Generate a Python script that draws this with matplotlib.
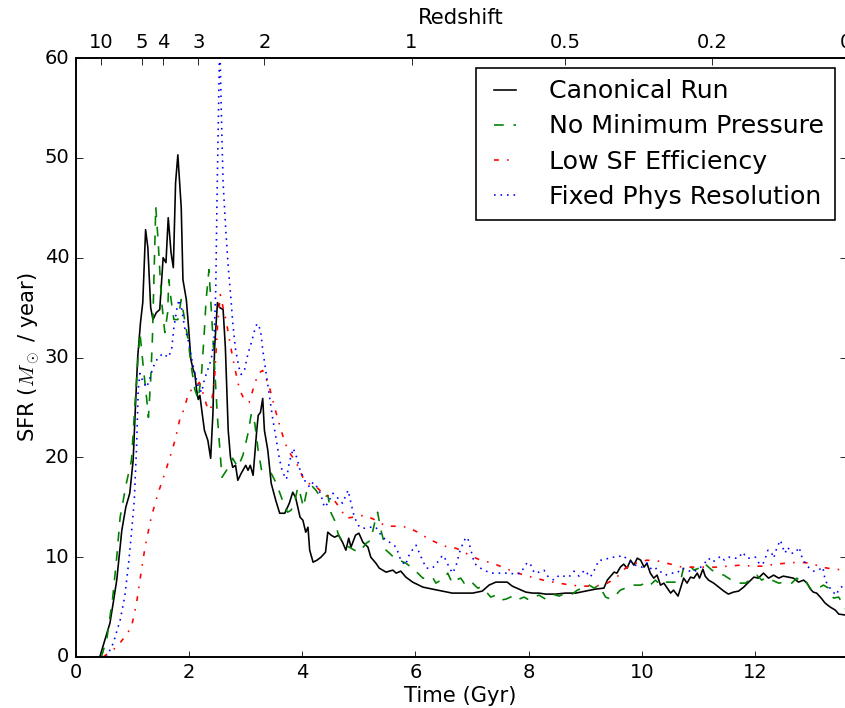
import matplotlib
matplotlib.use("Agg")
import matplotlib.pyplot as plt

plt.style.use("classic")

# --- data (time in Gyr, SFR in Msun/yr) ---
canon_t = [0.42, 0.50, 0.60, 0.66, 0.72, 0.81, 0.88, 0.95, 1.01, 1.05, 1.09, 1.14, 1.18, 1.23, 1.27,
           1.32, 1.36, 1.42, 1.48, 1.54, 1.59, 1.63, 1.68, 1.72, 1.76, 1.80, 1.86, 1.89, 1.95, 1.99,
           2.03, 2.07, 2.10, 2.13, 2.16, 2.19, 2.23, 2.27, 2.33, 2.38, 2.42, 2.45, 2.50, 2.54, 2.60,
           2.64, 2.69, 2.73, 2.77, 2.82, 2.86, 2.92, 3.00, 3.04, 3.08, 3.13, 3.19, 3.22, 3.26, 3.30,
           3.33, 3.39, 3.45, 3.53, 3.60, 3.69, 3.77, 3.83, 3.88, 3.92, 3.96, 4.01, 4.06, 4.10, 4.13,
           4.19, 4.26, 4.33, 4.41, 4.45, 4.51, 4.57, 4.64, 4.71, 4.77, 4.82, 4.86, 4.94, 5.00, 5.07,
           5.16, 5.21, 5.30, 5.36, 5.48, 5.60, 5.66, 5.74, 5.83, 5.95, 6.13, 6.30, 6.48, 6.65, 6.89,
           7.01, 7.18, 7.30, 7.42, 7.54, 7.62, 7.71, 7.83, 7.95, 8.07, 8.18, 8.30, 8.48, 8.65, 8.83,
           9.01, 9.18, 9.33, 9.39, 9.45, 9.51, 9.56, 9.62, 9.68, 9.74, 9.80, 9.86, 9.92, 9.98, 10.04,
           10.09, 10.15, 10.21, 10.27, 10.33, 10.39, 10.45, 10.51, 10.56, 10.64, 10.70, 10.74, 10.80,
           10.86, 10.92, 10.98, 11.02, 11.08, 11.12, 11.18, 11.27, 11.36, 11.45, 11.53, 11.62, 11.71,
           11.80, 11.89, 11.98, 12.06, 12.15, 12.24, 12.33, 12.42, 12.50, 12.59, 12.68, 12.77, 12.86,
           12.92, 12.98, 13.03, 13.09, 13.17, 13.24, 13.33, 13.42, 13.48, 13.60]
canon_sfr = [0.0, 1.5, 3.4, 5.5, 7.7, 12.7, 15.0, 16.4, 19.7, 25.0, 30.0, 33.5, 35.5, 42.8, 41.0,
             35.0, 33.8, 34.5, 34.8, 40.0, 39.5, 44.0, 40.5, 39.0, 47.5, 50.3, 45.0, 37.8, 35.8, 33.0,
             29.8, 28.8, 28.4, 26.8, 25.8, 26.2, 24.4, 22.7, 21.7, 19.9, 24.4, 31.0, 35.5, 35.0, 34.8,
             31.0, 22.7, 20.0, 19.0, 19.2, 17.7, 18.4, 19.2, 18.7, 19.2, 18.2, 22.4, 24.2, 24.5, 25.9,
             22.7, 20.7, 17.4, 15.7, 14.4, 14.4, 15.4, 16.5, 16.0, 15.0, 14.0, 13.7, 12.5, 13.0, 10.7,
             9.5, 9.7, 10.0, 10.5, 12.5, 12.2, 12.0, 12.2, 11.5, 10.7, 11.9, 11.0, 12.2, 12.4, 11.5,
             11.0, 10.0, 9.4, 8.9, 8.5, 8.7, 8.4, 8.6, 8.0, 7.5, 7.0, 6.8, 6.6, 6.4, 6.4,
             6.4, 6.6, 7.2, 7.5, 7.5, 7.5, 7.1, 6.8, 6.5, 6.4, 6.4, 6.3, 6.3, 6.4, 6.4,
             6.6, 6.8, 6.9, 7.7, 8.1, 8.5, 8.4, 9.0, 9.3, 8.9, 9.7, 9.2, 9.9, 9.7, 9.0,
             9.4, 8.4, 7.9, 8.2, 7.2, 7.4, 6.9, 6.4, 6.7, 6.1, 7.2, 7.9, 7.4,
             8.0, 7.9, 8.4, 7.9, 8.8, 8.1, 7.7, 7.4, 7.0, 6.6, 6.3, 6.5, 6.6,
             7.0, 7.5, 8.0, 7.9, 8.4, 7.9, 8.2, 7.9, 8.1, 8.0, 7.9, 7.5, 7.7,
             7.4, 6.8, 6.5, 6.4, 5.9, 5.4, 5.0, 4.7, 4.3, 4.2]

nominp_t = [0.45, 0.55, 0.65, 0.72, 0.78, 0.89, 0.98, 1.07, 1.13, 1.19, 1.25, 1.28, 1.32, 1.35, 1.38,
            1.41, 1.45, 1.51, 1.57, 1.62, 1.64, 1.68, 1.73, 1.80, 1.86, 1.92, 1.98, 2.04, 2.10, 2.16,
            2.22, 2.26, 2.30, 2.35, 2.42, 2.50, 2.58, 2.66, 2.72, 2.77, 2.86, 2.95, 3.04, 3.10, 3.16,
            3.22, 3.28, 3.36, 3.45, 3.54, 3.63, 3.69, 3.74, 3.80, 3.86, 3.92, 3.96, 4.02, 4.08, 4.16,
            4.24, 4.30, 4.36, 4.45, 4.51, 4.57, 4.63, 4.69, 4.74, 4.83, 4.92, 5.01, 5.13, 5.21, 5.30,
            5.33, 5.39, 5.48, 5.54, 5.63, 5.71, 5.83, 5.92, 6.04, 6.13, 6.22, 6.30, 6.36, 6.45, 6.51,
            6.57, 6.65, 6.71, 6.80, 6.86, 6.95, 7.01, 7.10, 7.16, 7.27, 7.33, 7.42, 7.51, 7.60, 7.68,
            7.74, 7.83, 7.92, 8.01, 8.10, 8.18, 8.30, 8.42, 8.54, 8.65, 8.77, 8.86, 8.95, 9.07, 9.16,
            9.24, 9.36, 9.45, 9.54, 9.62, 9.71, 9.80, 9.89, 9.98, 10.06, 10.13, 10.24, 10.33, 10.42,
            10.56, 10.68, 10.74, 10.83, 10.92, 11.01, 11.10, 11.18, 11.24, 11.33, 11.45, 11.53, 11.59,
            11.71, 11.83, 11.95, 12.03, 12.12, 12.21, 12.30, 12.42, 12.53, 12.65, 12.74, 12.83, 12.89,
            13.00, 13.12, 13.21, 13.30, 13.39, 13.48, 13.60]
nominp_sfr = [0.0, 2.0, 6.0, 10.0, 14.0, 17.4, 19.7, 27.8, 32.5, 29.0, 25.8, 24.0, 27.8, 31.8, 38.5,
              45.1, 41.8, 35.8, 32.5, 34.5, 37.8, 35.8, 33.8, 33.8, 35.8, 33.8, 31.8, 29.0, 26.8, 25.8,
              28.5, 31.8, 35.8, 38.8, 32.0, 24.0, 18.0, 18.7, 19.4, 19.9, 19.0, 20.2, 22.4, 24.4, 23.4,
              20.7, 18.7, 18.5, 18.4, 17.4, 16.0, 15.0, 14.5, 14.7, 15.4, 17.0, 16.4, 15.0, 16.7, 17.2,
              16.7, 16.2, 15.9, 16.2, 14.4, 13.7, 12.4, 11.7, 11.2, 11.0, 10.7, 10.5, 11.4, 11.7, 14.0,
              14.5, 12.7, 10.7, 10.4, 9.9, 9.7, 9.4, 9.0, 8.4, 7.9, 7.9, 8.0, 7.4, 7.7, 7.9,
              8.4, 7.4, 7.7, 7.9, 7.4, 7.7, 7.4, 6.9, 7.0, 6.4, 6.0, 6.2, 5.7, 5.8, 6.0,
              6.2, 5.8, 6.0, 5.7, 6.0, 6.2, 5.8, 6.3, 6.1, 6.4, 6.3, 6.7, 6.9, 7.2, 6.9,
              7.2, 6.0, 5.8, 6.2, 6.7, 6.9, 7.2, 7.2, 7.2, 7.4, 7.1, 7.7, 7.2, 7.5,
              7.5, 7.5, 9.0, 9.3, 8.7, 8.9, 9.4, 9.0, 8.7, 8.4, 8.2, 7.9, 7.7,
              7.4, 7.4, 7.9, 8.2, 7.7, 8.0, 7.7, 7.4, 7.5, 7.4, 7.9, 7.4, 7.6,
              6.7, 6.9, 7.2, 6.9, 5.9, 6.0, 4.8]

lowsf_t = [0.48, 0.72, 0.86, 0.98, 1.07, 1.13, 1.22, 1.33, 1.45, 1.57, 1.66, 1.75, 1.83, 1.92, 1.99,
           2.10, 2.18, 2.24, 2.32, 2.38, 2.45, 2.50, 2.55, 2.60, 2.66, 2.72, 2.80, 2.89, 2.98, 3.06,
           3.14, 3.22, 3.30, 3.42, 3.51, 3.60, 3.69, 3.77, 3.89, 4.01, 4.10, 4.22, 4.36, 4.54, 4.69,
           4.77, 4.89, 5.10, 5.30, 5.48, 5.66, 5.86, 6.04, 6.21, 6.39, 6.57, 6.71, 6.80, 6.95, 7.15,
           7.36, 7.54, 7.71, 7.92, 8.12, 8.33, 8.54, 8.74, 8.95, 9.12, 9.33, 9.54, 9.71, 9.89, 10.09,
           10.30, 10.51, 10.71, 10.92, 11.12, 11.33, 11.53, 11.74, 11.95, 12.15, 12.36, 12.56, 12.77,
           12.98, 13.18, 13.39, 13.60]
lowsf_sfr = [0.0, 1.0, 2.0, 3.0, 5.4, 7.7, 11.0, 14.0, 16.4, 18.4, 20.0, 21.7, 23.7, 25.0, 26.5,
             27.0, 27.5, 26.5, 25.0, 24.7, 28.0, 33.0, 36.3, 35.0, 33.5, 31.5, 29.1, 26.8, 25.7, 25.5,
             27.0, 28.4, 28.7, 27.0, 25.0, 23.2, 21.5, 20.5, 19.5, 18.0, 17.4, 17.2, 16.4, 15.9, 14.7,
             13.9, 14.0, 14.2, 13.7, 13.1, 13.1, 13.0, 12.5, 11.9, 11.4, 11.0, 10.9, 10.7, 10.2, 9.7,
             9.4, 9.0, 8.6, 8.2, 7.9, 7.6, 7.4, 7.2, 7.1, 7.1, 7.2, 7.9, 8.9, 9.4, 9.7,
             9.6, 9.3, 9.0, 9.0, 9.0, 9.0, 9.1, 9.2, 9.1, 9.1, 9.3, 9.4, 9.5,
             9.4, 9.0, 8.8, 8.7]

fixres_t = [0.54, 0.66, 0.78, 0.86, 0.93, 0.98, 1.03, 1.07, 1.10, 1.13, 1.19, 1.25, 1.31, 1.36, 1.45,
            1.54, 1.63, 1.69, 1.73, 1.78, 1.82, 1.87, 1.92, 1.98, 2.04, 2.10, 2.16, 2.22, 2.27, 2.33,
            2.39, 2.44, 2.47, 2.49, 2.51, 2.54, 2.57, 2.60, 2.65, 2.69, 2.73, 2.77, 2.82, 2.88, 2.92,
            2.98, 3.04, 3.10, 3.16, 3.20, 3.26, 3.30, 3.35, 3.41, 3.47, 3.53, 3.59, 3.65, 3.72, 3.77,
            3.84, 3.90, 3.96, 4.04, 4.13, 4.19, 4.28, 4.33, 4.39, 4.45, 4.54, 4.63, 4.71, 4.77, 4.81,
            4.86, 4.92, 5.01, 5.10, 5.19, 5.30, 5.39, 5.48, 5.57, 5.66, 5.74, 5.82, 5.90, 6.01, 6.10,
            6.19, 6.30, 6.39, 6.48, 6.54, 6.60, 6.66, 6.72, 6.78, 6.86, 6.92, 6.98, 7.04, 7.12, 7.21,
            7.33, 7.45, 7.54, 7.65, 7.77, 7.86, 7.92, 7.98, 8.04, 8.10, 8.18, 8.27, 8.35, 8.45, 8.54,
            8.62, 8.71, 8.80, 8.89, 8.99, 9.09, 9.18, 9.24, 9.33, 9.45, 9.57, 9.66, 9.74, 9.83, 9.92,
            10.00, 10.09, 10.18, 10.27, 10.34, 10.42, 10.51, 10.62, 10.71, 10.80, 10.89, 10.98, 11.04,
            11.11, 11.18, 11.24, 11.31, 11.39, 11.46, 11.54, 11.65, 11.71, 11.78, 11.86, 11.93, 12.01,
            12.08, 12.14, 12.19, 12.23, 12.29, 12.33, 12.39, 12.45, 12.49, 12.53, 12.58, 12.64, 12.71,
            12.78, 12.83, 12.89, 12.96, 13.04, 13.12, 13.20, 13.24, 13.30, 13.37, 13.43, 13.50, 13.60]
fixres_sfr = [0.0, 1.4, 3.7, 6.0, 9.4, 12.4, 15.7, 21.0, 26.8, 28.4, 27.5, 27.0, 28.0, 29.0, 30.0,
              30.4, 30.0, 30.8, 33.0, 34.8, 35.8, 34.8, 33.0, 31.8, 30.0, 28.4, 27.1, 26.5, 27.8, 28.8,
              29.8, 31.8, 36.8, 45.1, 52.0, 62.0, 54.1, 47.5, 42.5, 39.1, 36.5, 33.5, 30.8, 29.0, 28.3,
              28.8, 30.4, 31.5, 32.8, 33.4, 32.8, 30.8, 28.8, 26.5, 24.1, 22.1, 20.0, 18.5, 17.8, 19.5,
              20.9, 20.0, 18.7, 17.7, 17.0, 17.5, 16.9, 16.2, 15.0, 15.4, 16.4, 15.9, 15.4, 16.2, 16.7,
              15.4, 14.0, 13.0, 12.9, 13.0, 13.0, 12.2, 11.7, 11.4, 11.0, 9.7, 9.2, 10.4, 11.2, 10.0,
              8.9, 8.9, 9.5, 10.2, 9.7, 8.9, 8.4, 9.2, 10.5, 11.7, 12.0, 10.7, 9.4, 9.0, 8.7,
              8.4, 8.4, 8.4, 8.4, 8.3, 8.4, 9.0, 9.5, 9.2, 8.4, 8.5, 8.7, 8.0, 7.7, 8.2,
              8.1, 8.0, 8.6, 8.1, 8.7, 8.0, 8.9, 9.7, 9.7, 10.0, 10.0, 10.2, 9.8, 9.4, 9.1,
              9.0, 9.4, 8.7, 8.9, 8.5, 8.2, 8.4, 8.4, 8.9, 8.7, 8.5, 8.7, 9.0,
              9.4, 9.9, 9.5, 9.7, 10.1, 9.7, 10.0, 9.9, 9.9, 10.5, 9.9, 9.9, 10.0,
              9.3, 9.3, 10.0, 10.7, 10.5, 9.9, 11.0, 11.7, 11.0, 10.4, 11.0, 10.4, 10.4,
              11.0, 10.0, 9.4, 8.9, 8.6, 8.7, 9.0, 7.7, 7.1, 6.6, 6.2, 6.9, 7.3]

redshift_labels = ["10", "5", "4", "3", "2", "1", "0.5", "0.2", "0"]
redshift_times = [0.44, 1.17, 1.54, 2.16, 3.33, 5.93, 8.64, 11.24, 13.60]

fig = plt.figure(figsize=(845 / 117, 708 / 117), dpi=117, facecolor="white")
ax = fig.add_axes([76 / 845, 51 / 708, 769.5 / 845, 599 / 708])

ax.plot(canon_t, canon_sfr, "k-", lw=1.0, label="Canonical Run")
ax.plot(nominp_t, nominp_sfr, "g--", lw=1.0, label="No Minimum Pressure")
ax.plot(lowsf_t, lowsf_sfr, "r-.", lw=1.0, label="Low SF Efficiency")
ax.plot(fixres_t, fixres_sfr, "b:", lw=1.0, label="Fixed Phys Resolution")

ax.set_xlim(0, 13.6)
ax.set_ylim(0, 60)
ax.set_xlabel("Time (Gyr)", fontsize=13, labelpad=2)
ax.set_ylabel(r"SFR ($M_\odot$ / year)", fontsize=13, labelpad=2)

leg = ax.legend(loc="upper right", fontsize=15.5, handlelength=1.47, borderpad=0.45,
                handletextpad=1.0, labelspacing=0.44, borderaxespad=0.4)
leg.get_frame().set_edgecolor("black")

# top axis: redshift
ax2 = ax.twiny()
ax2.set_xlim(ax.get_xlim())
ax2.set_xticks(redshift_times)
ax2.set_xticklabels(redshift_labels)
ax2.set_xlabel("Redshift", fontsize=13)

fig.savefig("out.png", dpi=117, facecolor="white")
